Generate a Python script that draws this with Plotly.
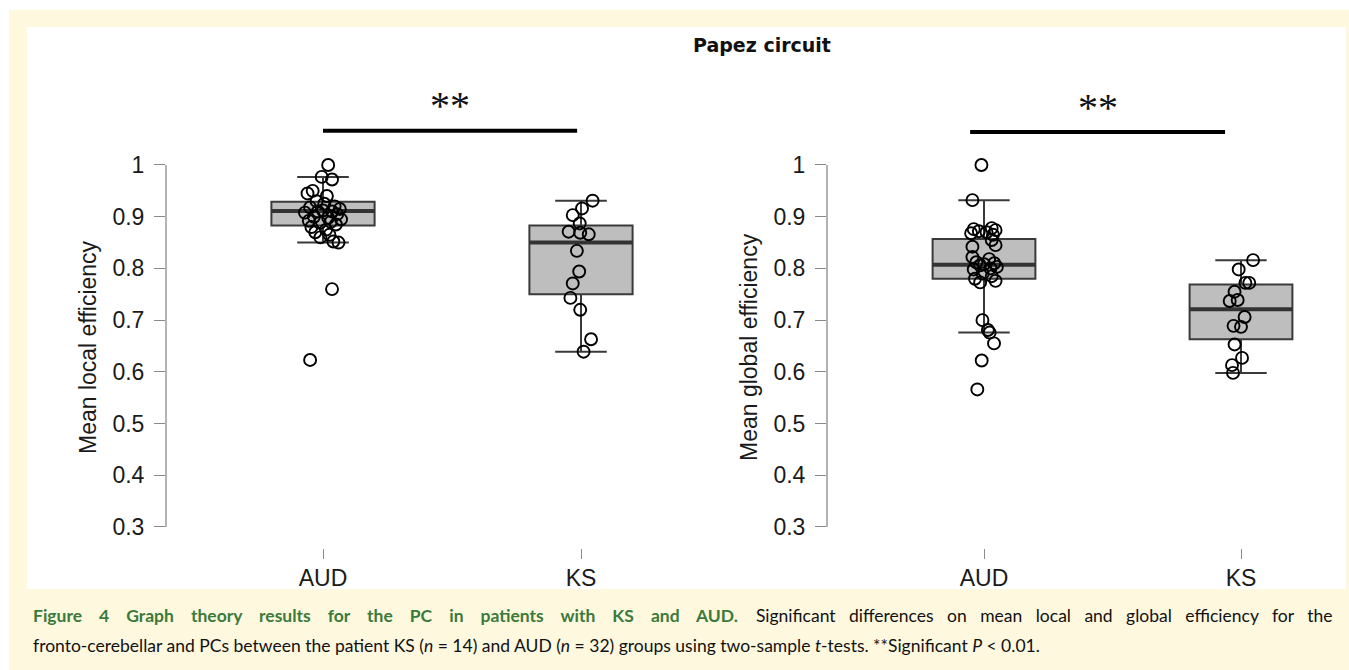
import plotly.graph_objects as go

W, H = 1349, 670

# ---------------- data ----------------
categories = ["AUD", "KS"]
y_ticks = [0.3, 0.4, 0.5, 0.6, 0.7, 0.8, 0.9, 1.0]
y_tick_labels = ["0.3", "0.4", "0.5", "0.6", "0.7", "0.8", "0.9", "1"]

# Panel 1: mean local efficiency
local_aud = [1.0, 0.977, 0.972, 0.95, 0.945, 0.94, 0.93, 0.925, 0.92, 0.918, 0.915,
             0.912, 0.91, 0.91, 0.908, 0.905, 0.9, 0.898, 0.895, 0.892, 0.89, 0.888,
             0.885, 0.88, 0.875, 0.87, 0.865, 0.86, 0.852, 0.85, 0.76, 0.623]
local_aud_jitter = [0.02, -0.005, 0.035, -0.04, -0.06, 0.015, -0.025, 0.005, 0.045, -0.05,
                    0.065, 0.0, -0.02, 0.035, -0.07, 0.055, -0.035, 0.02, 0.07, -0.055,
                    0.03, -0.012, 0.05, -0.045, 0.012, -0.03, 0.025, -0.01, 0.04, 0.06,
                    0.035, -0.05]
local_ks = [0.931, 0.916, 0.903, 0.887, 0.871, 0.869, 0.866, 0.834, 0.794, 0.771,
            0.743, 0.720, 0.663, 0.639]
local_ks_jitter = [0.045, 0.004, -0.032, -0.005, -0.048, -0.003, 0.030, -0.016, -0.007,
                   -0.032, -0.041, -0.003, 0.039, 0.010]
local_q1 = [0.883, 0.750]
local_median = [0.911, 0.850]
local_q3 = [0.929, 0.883]
local_lower = [0.850, 0.639]
local_upper = [0.977, 0.931]

# Panel 2: mean global efficiency
global_aud = [1.0, 0.932, 0.878, 0.876, 0.874, 0.872, 0.870, 0.868, 0.865, 0.855, 0.845,
              0.842, 0.822, 0.818, 0.812, 0.81, 0.808, 0.806, 0.803, 0.80, 0.798, 0.79,
              0.785, 0.78, 0.776, 0.773, 0.70, 0.681, 0.676, 0.655, 0.622, 0.566]
global_aud_jitter = [-0.01, -0.045, 0.03, -0.04, 0.045, -0.02, 0.01, -0.05, 0.035, 0.03,
                     0.045, -0.045, -0.045, 0.02, -0.03, 0.04, 0.0, -0.015, 0.05, 0.025,
                     -0.04, -0.005, 0.03, -0.035, 0.045, -0.015, -0.006, 0.015, 0.022,
                     0.039, -0.009, -0.026]
global_ks = [0.816, 0.798, 0.772, 0.772, 0.755, 0.737, 0.739, 0.706, 0.689, 0.687,
             0.653, 0.627, 0.613, 0.598]
global_ks_jitter = [0.047, -0.009, 0.017, 0.032, -0.025, -0.044, -0.013, 0.014, -0.029,
                    0.0, -0.025, 0.004, -0.035, -0.031]
global_q1 = [0.780, 0.663]
global_median = [0.807, 0.721]
global_q3 = [0.857, 0.769]
global_lower = [0.676, 0.598]
global_upper = [0.932, 0.816]

# significance brackets (x from, x to, bar level, star level)
sig_left = [0.0, 0.985, 1.066, 1.116]
sig_right = [-0.054, 0.938, 1.064, 1.112]

title_text = "Papez circuit"
y_titles = ["Mean local efficiency", "Mean global efficiency"]
caption_bold = "Figure 4 Graph theory results for the PC in patients with KS and AUD."
caption_rest1 = "Significant differences on mean local and global efficiency for the"
caption_line2 = ("fronto-cerebellar and PCs between the patient KS (<i>n</i> = 14) and AUD "
                 "(<i>n</i> = 32) groups using two-sample <i>t</i>-tests. **Significant "
                 "<i>P</i> &lt; 0.01.")

# ---------------- layout geometry ----------------
def px(x):
    return x / W

def py(y):
    return 1 - y / H

Y_TOP_PX, Y_BOT_PX = 165, 527          # pixel rows of 1.0 and 0.3
ppu = (Y_BOT_PX - Y_TOP_PX) / 0.7
YR = [0.26, 1.15]
ydom = [py(Y_BOT_PX + (0.3 - YR[0]) * ppu), py(Y_BOT_PX - (YR[1] - 0.3) * ppu)]

# (axis px, AUD px, KS px, right end px)
panels_px = [(166, 323, 581, 700), (827, 984, 1241, 1345)]

YELLOW = "#fef8df"
BOXFILL = "#bebebe"
BOXLINE = "#3a3a3a"
FONT = "Liberation Sans"
TXT = "#1a1a1a"
AXC = "#8a8a8a"
FS = 23

fig = go.Figure()
layout = dict(
    width=W, height=H, margin=dict(l=0, r=0, t=0, b=0),
    paper_bgcolor=YELLOW, plot_bgcolor="white", showlegend=False,
    shapes=[], annotations=[],
)

panel_data = [
    (local_aud, local_aud_jitter, local_ks, local_ks_jitter,
     local_q1, local_median, local_q3, local_lower, local_upper, sig_left),
    (global_aud, global_aud_jitter, global_ks, global_ks_jitter,
     global_q1, global_median, global_q3, global_lower, global_upper, sig_right),
]

box_w = 0.4
axis_shapes = []
for i, (pp, pdata) in enumerate(zip(panels_px, panel_data)):
    ax_px, aud_px, ks_px, end_px = pp
    unit = ks_px - aud_px
    xr = [(ax_px - aud_px) / unit, (end_px - aud_px) / unit]
    xname = "xaxis" if i == 0 else "xaxis2"
    yname = "yaxis" if i == 0 else "yaxis2"
    xid = "x" if i == 0 else "x2"
    yid = "y" if i == 0 else "y2"
    layout[xname] = dict(
        domain=[px(ax_px), px(end_px)], range=xr, anchor=yid,
        tickvals=[0, 1], ticktext=categories, ticks="outside", ticklen=10,
        tickwidth=1.3, tickcolor=AXC, showline=False, showgrid=False,
        zeroline=False, tickfont=dict(family=FONT, size=FS, color=TXT),
        ticklabelstandoff=0, fixedrange=True,
    )
    layout[yname] = dict(
        domain=ydom, range=YR, anchor=xid,
        tickvals=y_ticks, ticktext=y_tick_labels, ticks="outside", ticklen=11,
        tickwidth=1.3, tickcolor=AXC, showline=False, showgrid=False,
        zeroline=False, tickfont=dict(family=FONT, size=FS, color=TXT),
        ticklabelstandoff=5, fixedrange=True,
    )
    # y axis line spanning 0.3 - 1.0 only
    axis_shapes.append(dict(
        type="line", xref=f"{xid} domain", yref=yid, x0=0, x1=0,
        y0=y_ticks[0], y1=y_ticks[-1], line=dict(color=AXC, width=1.3)))

    aud, aud_j, ks, ks_j, q1, med, q3, lo, hi, sig = pdata
    fig.add_trace(go.Box(
        x=[0, 1], q1=q1, median=med, q3=q3, lowerfence=lo, upperfence=hi,
        orientation="v", width=box_w, whiskerwidth=0.5, boxpoints=False,
        fillcolor=BOXFILL, line=dict(color=BOXLINE, width=2),
        xaxis=xid, yaxis=yid, hoverinfo="skip"))
    # thicker median bars
    mx, my = [], []
    for c, m in zip([0, 1], med):
        mx += [c - box_w / 2, c + box_w / 2, None]
        my += [m, m, None]
    fig.add_trace(go.Scatter(x=mx, y=my, mode="lines",
                             line=dict(color="#333333", width=4),
                             xaxis=xid, yaxis=yid, hoverinfo="skip"))
    # individual points
    xs = [0 + j for j in aud_j] + [1 + j for j in ks_j]
    ys = aud + ks
    fig.add_trace(go.Scatter(
        x=xs, y=ys, mode="markers", cliponaxis=False,
        marker=dict(symbol="circle-open", size=12, color="black",
                    line=dict(color="black", width=1.9)),
        xaxis=xid, yaxis=yid, hoverinfo="skip"))
    # significance bar
    fig.add_trace(go.Scatter(
        x=[sig[0], sig[1]], y=[sig[2], sig[2]], mode="lines",
        line=dict(color="black", width=4), xaxis=xid, yaxis=yid,
        hoverinfo="skip"))
    layout["annotations"].append(dict(
        text="**", x=(sig[0] + sig[1]) / 2, y=sig[3], xref=xid, yref=yid,
        showarrow=False, font=dict(family="Liberation Serif", size=40, color="#111"),
        yanchor="middle"))
    # y axis title
    layout["annotations"].append(dict(
        text=y_titles[i], x=px(ax_px - 78), y=py(347), xref="paper", yref="paper",
        textangle=-90, showarrow=False, xanchor="center", yanchor="middle",
        font=dict(family=FONT, size=FS, color=TXT)))

# background panels
layout["shapes"] = [
    dict(type="rect", xref="paper", yref="paper", x0=0, x1=1, y0=py(10), y1=1,
         fillcolor="white", line=dict(width=0), layer="below"),
    dict(type="rect", xref="paper", yref="paper", x0=0, x1=px(9), y0=0, y1=1,
         fillcolor="white", line=dict(width=0), layer="below"),
    dict(type="rect", xref="paper", yref="paper", x0=px(27), x1=px(1346),
         y0=py(589), y1=py(27), fillcolor="white", line=dict(width=0), layer="below"),
] + axis_shapes

# justified first caption line: widen the word gaps with no-break spaces
GAP_BOLD = " " + "\u00a0" * 3
GAP_REG = " " + "\u00a0" * 2
line1 = ("<b><span style='color:#3b7a3a'>" + GAP_BOLD.join(caption_bold.split(" "))
         + "</span></b>" + GAP_BOLD + GAP_REG.join(caption_rest1.split(" ")))

layout["annotations"] += [
    dict(text=f"<b>{title_text}</b>", x=px(762), y=py(45), xref="paper", yref="paper",
         showarrow=False, xanchor="center", yanchor="middle",
         font=dict(family="DejaVu Sans", size=19, color="#111")),
    dict(text=line1, x=px(31), y=py(615), xref="paper", yref="paper",
         showarrow=False, xanchor="left", yanchor="middle",
         font=dict(family="Lato", size=17.5, color="#111")),
    dict(text=caption_line2, x=px(31), y=py(645), xref="paper", yref="paper",
         showarrow=False, xanchor="left", yanchor="middle",
         font=dict(family="Lato", size=17.5, color="#111")),
]

fig.update_layout(**layout)

fig.write_html(
    "out.html", config={"displayModeBar": False},
    post_script="document.body.style.margin='0';document.body.style.overflow='hidden';")
